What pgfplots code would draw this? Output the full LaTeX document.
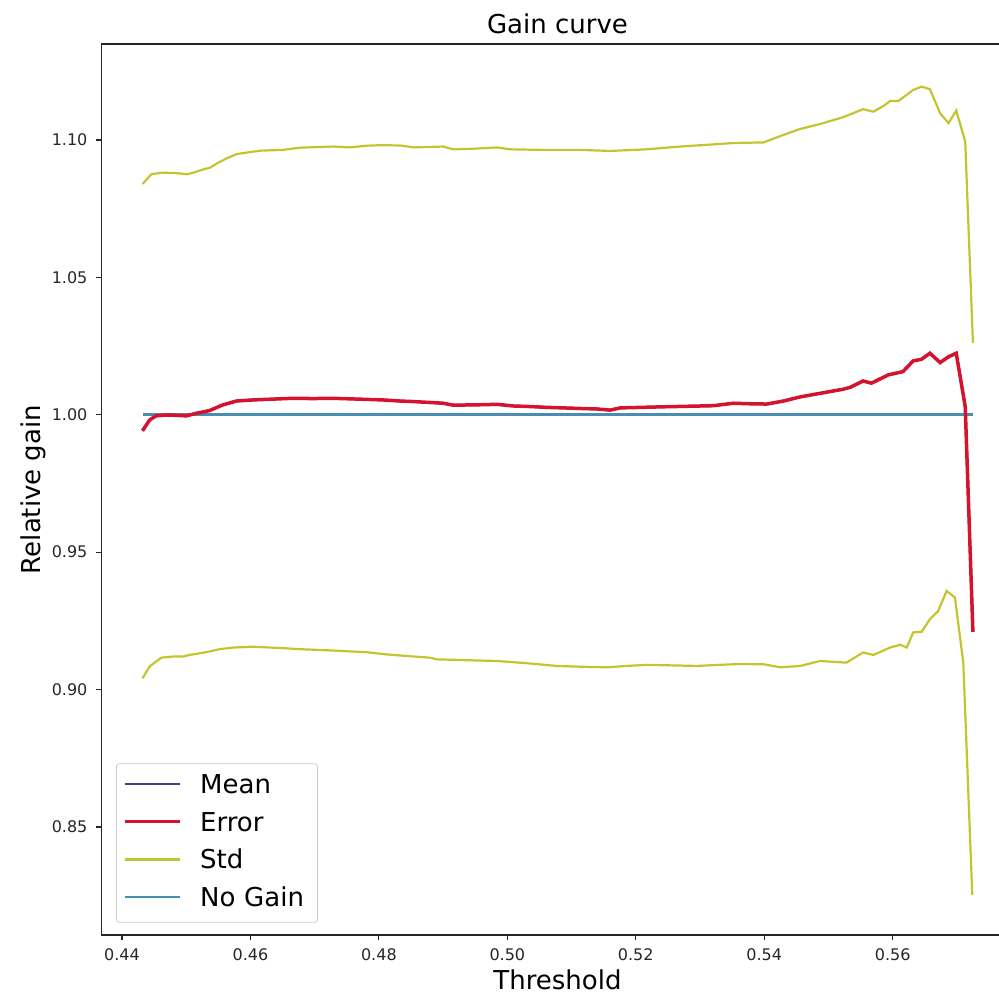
\documentclass[border=0pt]{standalone}
\usepackage{fontspec}
\setmainfont{DejaVu Sans}
\usepackage{pgfplots}
\usepackage{pgfplotstable}
\pgfplotsset{compat=1.18}

\definecolor{meancol}{HTML}{483D8B}
\definecolor{errcol}{HTML}{D4142E}
\definecolor{stdcol}{HTML}{C4C430}
\definecolor{nogaincol}{HTML}{4A8DB3}

% relative gain of the error (the mean curve coincides with it)
\pgfplotstableread{
x y
0.4432 0.9942
0.4443 0.9981
0.4453 0.9996
0.4469 0.9999
0.4485 0.9998
0.4500 0.9996
0.4515 1.0005
0.4536 1.0015
0.4557 1.0036
0.4578 1.0050
0.4604 1.0054
0.4635 1.0057
0.4666 1.0060
0.4697 1.0059
0.4728 1.0060
0.4755 1.0058
0.4780 1.0056
0.4806 1.0054
0.4833 1.0050
0.4854 1.0048
0.4877 1.0045
0.4900 1.0042
0.4916 1.0035
0.4950 1.0036
0.4984 1.0038
0.5009 1.0032
0.5035 1.0030
0.5061 1.0027
0.5087 1.0025
0.5113 1.0023
0.5140 1.0021
0.5160 1.0017
0.5176 1.0025
0.5210 1.0027
0.5243 1.0029
0.5282 1.0031
0.5321 1.0033
0.5352 1.0042
0.5378 1.0040
0.5404 1.0039
0.5430 1.0050
0.5456 1.0065
0.5487 1.0078
0.5523 1.0093
0.5534 1.0100
0.5554 1.0123
0.5567 1.0115
0.5593 1.0145
0.5616 1.0157
0.5632 1.0196
0.5645 1.0202
0.5658 1.0224
0.5674 1.0190
0.5687 1.0211
0.5699 1.0224
0.5713 1.0030
0.5725 0.9210
}\errtab

% mean + std
\pgfplotstableread{
x y
0.4432 1.0840
0.4446 1.0876
0.4464 1.0881
0.4487 1.0879
0.4501 1.0875
0.4511 1.0881
0.4527 1.0893
0.4537 1.0899
0.4548 1.0915
0.4563 1.0933
0.4579 1.0949
0.4594 1.0954
0.4615 1.0961
0.4651 1.0964
0.4677 1.0972
0.4729 1.0976
0.4755 1.0973
0.4780 1.0979
0.4802 1.0981
0.4833 1.0980
0.4854 1.0973
0.4900 1.0976
0.4916 1.0966
0.4947 1.0968
0.4984 1.0973
0.5004 1.0966
0.5051 1.0964
0.5113 1.0964
0.5160 1.0960
0.5217 1.0966
0.5269 1.0976
0.5321 1.0984
0.5352 1.0989
0.5399 1.0991
0.5427 1.1016
0.5456 1.1040
0.5490 1.1060
0.5523 1.1083
0.5554 1.1112
0.5570 1.1103
0.5586 1.1124
0.5596 1.1142
0.5609 1.1142
0.5632 1.1182
0.5645 1.1194
0.5658 1.1185
0.5674 1.1097
0.5687 1.1061
0.5699 1.1107
0.5713 1.0994
0.5725 1.0262
}\stdup

% mean - std
\pgfplotstableread{
x y
0.4432 0.9041
0.4443 0.9084
0.4461 0.9116
0.4478 0.9120
0.4495 0.9120
0.4505 0.9126
0.4531 0.9136
0.4552 0.9147
0.4573 0.9153
0.4604 0.9156
0.4630 0.9153
0.4656 0.9150
0.4677 0.9147
0.4729 0.9142
0.4781 0.9136
0.4807 0.9129
0.4833 0.9124
0.4880 0.9116
0.4890 0.9110
0.4936 0.9107
0.4984 0.9104
0.5030 0.9096
0.5077 0.9086
0.5116 0.9083
0.5155 0.9081
0.5186 0.9086
0.5217 0.9090
0.5256 0.9088
0.5295 0.9086
0.5330 0.9090
0.5362 0.9093
0.5399 0.9092
0.5425 0.9081
0.5456 0.9086
0.5487 0.9104
0.5528 0.9098
0.5554 0.9135
0.5570 0.9126
0.5596 0.9153
0.5612 0.9163
0.5622 0.9153
0.5632 0.9208
0.5645 0.9210
0.5658 0.9256
0.5671 0.9286
0.5684 0.9359
0.5697 0.9335
0.5710 0.9098
0.5724 0.8253
}\stdlo

\pgfplotstableread{
x y
0.4432 1.0
0.5725 1.0
}\nogain

\begin{document}
\begin{tikzpicture}
\begin{axis}[
  at={(50.75pt,29.5pt)}, anchor=south west,
  scale only axis, width=456pt, height=445.5pt,
  xmin=0.43681, xmax=0.57882, ymin=0.81069, ymax=1.13493,
  xtick={0.44,0.46,0.48,0.50,0.52,0.54,0.56},
  ytick={0.85,0.90,0.95,1.00,1.05,1.10},
  xtick pos=left, ytick pos=left,
  tick align=outside, major tick length=2.5pt,
  tick style={black!85, line width=0.6pt},
  axis line style={black!85, line width=0.75pt},
  /pgf/number format/.cd, fixed, fixed zerofill, precision=2, assume math mode=true,
  /pgfplots/.cd,
  tick label style={font=\fontsize{8}{9.6}\selectfont, text=black!85},
  xticklabel style={anchor=north, yshift=-1pt},
  yticklabel style={anchor=east, xshift=-1pt},
  title={Gain curve},
  title style={at={(axis description cs:0.5,0.9978)}, anchor=base, font=\fontsize{13}{15.6}\selectfont},
  xlabel={Threshold},
  xlabel style={at={(axis description cs:0.5,-0.0617)}, anchor=base, font=\fontsize{13}{15.6}\selectfont},
  ylabel={Relative gain},
  ylabel style={at={(axis description cs:-0.0674,0.5)}, anchor=base, font=\fontsize{13}{15.6}\selectfont},
  legend cell align=left,
  legend image code/.code={\draw[#1, line width=1.25pt] (0pt,1.24pt) -- (27.5pt,1.24pt);},
  legend style={at={(axis description cs:0.0159,0.0138)}, anchor=south west,
    draw=black!20, rounded corners=1.5pt, fill=white,
    inner xsep=3.65pt, inner ysep=5.3pt,
    font=\fontsize{13}{15.6}\selectfont,
    row sep=6.9pt, column sep=9.5pt,
    nodes={inner sep=0pt, text height=9.5pt, text depth=2.5pt, text width=55pt}},
]
\addplot[nogaincol, line width=1.3pt, forget plot] table {\nogain};
\addplot[meancol, line width=1.2pt] table {\errtab};
\addlegendentry{Mean}
\addplot[errcol, line width=1.75pt] table {\errtab};
\addlegendentry{Error}
\addplot[stdcol, line width=1.1pt] table {\stdup};
\addlegendentry{Std}
\addplot[stdcol, line width=1.1pt, forget plot] table {\stdlo};
\addlegendimage{nogaincol, line width=1.25pt}
\addlegendentry{No Gain}
\end{axis}
\pgfresetboundingbox
\useasboundingbox (0,0) rectangle (499.5pt,497pt);
\end{tikzpicture}
\end{document}
